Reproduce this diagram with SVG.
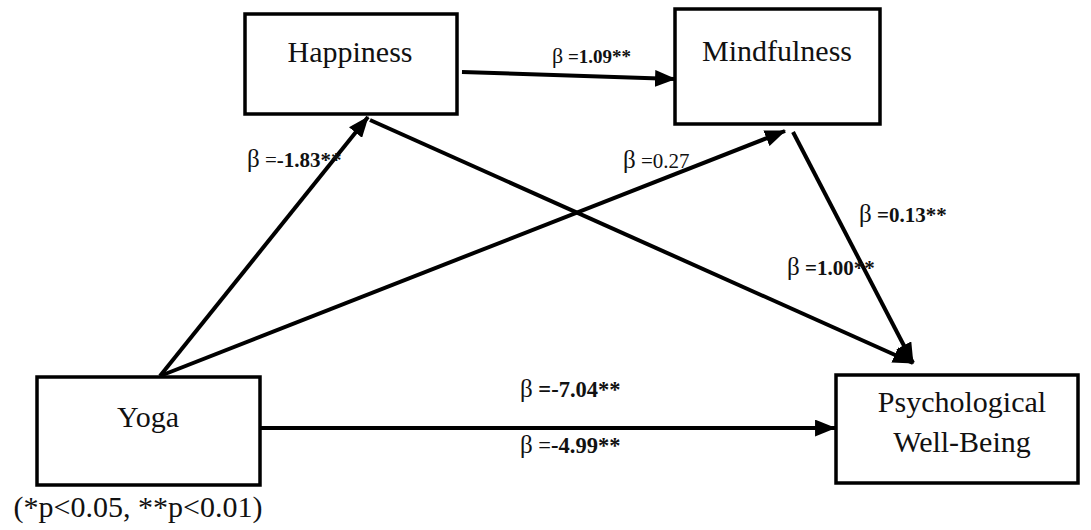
<svg xmlns="http://www.w3.org/2000/svg" width="1091" height="530" viewBox="0 0 1091 530">
<style>
.box{fill:#fff;stroke:#000;stroke-width:3.5}
.nt{font-family:"Liberation Serif","DejaVu Serif",serif;font-size:30px;fill:#111;text-anchor:middle}
.conn line{stroke:#000;stroke-width:4;fill:none}
.lbl{font-family:"Liberation Serif","DejaVu Serif",serif;font-size:21px;fill:#111}
.sm{font-size:19px}
.lg{font-size:22.5px}
.b{font-weight:bold}
.beta{font-size:25px;font-weight:normal}
</style>
<defs>
<marker id="ah" viewBox="0 0 20 16" refX="19" refY="8" markerWidth="21" markerHeight="17" markerUnits="userSpaceOnUse" orient="auto">
<path d="M0,0 L20,8 L0,16 Z" fill="#000"/>
</marker>
</defs>
<rect width="1091" height="530" fill="#fff"/>
<g id="connectors" class="conn">
<line x1="462" y1="72" x2="675" y2="79" marker-end="url(#ah)"/>
<line x1="160" y1="376" x2="368" y2="117" marker-end="url(#ah)"/>
<line x1="160" y1="376" x2="785" y2="131" marker-end="url(#ah)"/>
<line x1="370" y1="120" x2="913" y2="363" marker-end="url(#ah)"/>
<line x1="793" y1="132" x2="913" y2="363" marker-end="url(#ah)"/>
<line x1="260" y1="428" x2="835" y2="428" marker-end="url(#ah)"/>
</g>
<g id="node-happiness">
<rect class="box" x="245" y="14" width="212" height="100"/>
<text class="nt" x="350" y="62">Happiness</text>
</g>
<g id="node-mindfulness">
<rect class="box" x="675" y="9" width="205" height="115"/>
<text class="nt" x="777" y="61">Mindfulness</text>
</g>
<g id="node-yoga">
<rect class="box" x="37" y="377" width="223" height="108"/>
<text class="nt" x="148" y="427">Yoga</text>
</g>
<g id="node-pwb">
<rect class="box" x="836" y="375" width="242" height="108"/>
<text class="nt" x="962" y="412">Psychological</text>
<text class="nt" x="962" y="452">Well-Being</text>
</g>
<g id="labels">
<text class="lbl sm" x="552" y="63"><tspan class="beta" style="font-size:22px">β</tspan> <tspan class="b">=1.09**</tspan></text>
<text class="lbl" x="247" y="167"><tspan class="beta">β</tspan> =<tspan class="b">-1.83**</tspan></text>
<text class="lbl" x="623" y="168"><tspan class="beta">β</tspan> =0.27</text>
<text class="lbl" x="859" y="222"><tspan class="beta">β</tspan> <tspan class="b">=0.13**</tspan></text>
<text class="lbl" x="787" y="275"><tspan class="beta">β</tspan> <tspan class="b">=1.00**</tspan></text>
<text class="lbl lg" x="520" y="397"><tspan class="beta">β</tspan> <tspan class="b">=-7.04**</tspan></text>
<text class="lbl lg" x="520" y="453"><tspan class="beta">β</tspan> =<tspan class="b">-4.99**</tspan></text>
<text class="nt" x="138" y="517">(*p&lt;0.05, **p&lt;0.01)</text>
</g>
</svg>
